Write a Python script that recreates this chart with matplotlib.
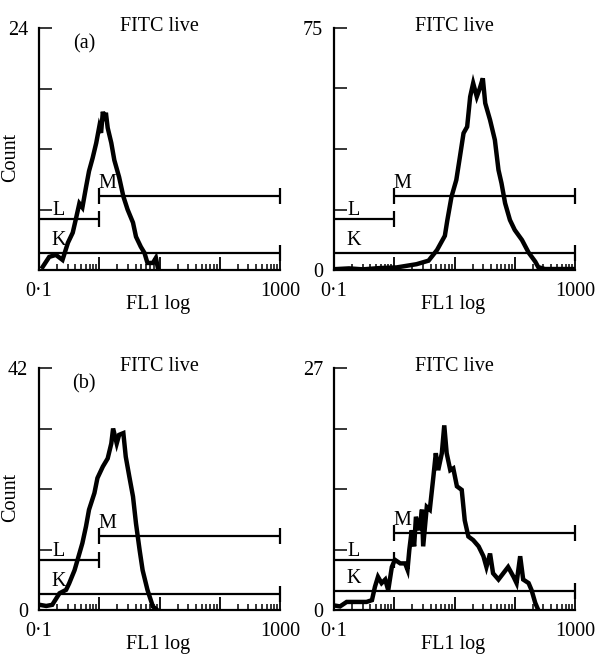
import matplotlib
matplotlib.use("Agg")
import matplotlib.pyplot as plt
import numpy as np

plt.rcParams['font.family'] = ['Liberation Serif', 'DejaVu Serif']
plt.rcParams['font.size'] = 14.5

# log10(FL1) positions and counts
a_log = [-0.94, -0.83, -0.72, -0.61, -0.52, -0.44, -0.39, -0.33, -0.28, -0.22, -0.17, -0.11,
         -0.05, 0.00, 0.03, 0.06, 0.09, 0.11, 0.14, 0.20, 0.25, 0.33, 0.40, 0.47, 0.56, 0.61,
         0.69, 0.75, 0.80, 0.89, 0.94, 0.97]
a_cnt = [0.3, 1.3, 1.5, 1.0, 2.7, 3.7, 5.0, 6.6, 6.2, 8.2, 9.8, 11.1,
         12.6, 14.2, 13.6, 15.7, 14.8, 15.6, 14.1, 12.6, 10.9, 9.2, 7.3, 6.0, 4.7, 3.3,
         2.3, 1.7, 0.7, 0.7, 1.2, 0.3]

b_log = [-0.95, -0.75, -0.52, -0.24, 0.04, 0.37, 0.57, 0.71, 0.84, 0.88, 0.95, 1.03, 1.09,
         1.15, 1.21, 1.26, 1.31, 1.37, 1.42, 1.47, 1.51, 1.59, 1.67, 1.73, 1.78, 1.84, 1.92,
         2.00, 2.12, 2.23, 2.34, 2.39, 2.50, 3.00]
b_cnt = [0.3, 0.5, 0.2, 0.6, 0.8, 1.8, 2.9, 6.2, 10.6, 15.3, 22.7, 27.9, 35.1,
         42.4, 44.4, 53.7, 57.9, 53.7, 56.3, 59.4, 51.7, 46.5, 40.3, 31.0, 26.9, 20.7, 15.5,
         12.4, 9.3, 5.4, 2.6, 0.9, 0.3, 0.3]

c_log = [-0.99, -0.88, -0.78, -0.75, -0.66, -0.55, -0.50, -0.41, -0.36, -0.28, -0.22, -0.17,
         -0.08, -0.03, 0.06, 0.14, 0.20, 0.23, 0.29, 0.33, 0.40, 0.44, 0.50, 0.56, 0.61,
         0.67, 0.72, 0.80, 0.89, 0.94]
c_cnt = [0.9, 0.7, 0.9, 1.4, 2.9, 3.5, 4.6, 6.9, 8.7, 11.6, 14.5, 17.4,
         20.3, 22.9, 24.9, 26.3, 28.9, 31.5, 28.9, 30.4, 30.7, 26.6, 23.1, 19.7, 15.0,
         10.4, 6.9, 3.5, 0.6, 0.2]

d_log = [-0.99, -0.90, -0.79, -0.62, -0.46, -0.37, -0.32, -0.27, -0.21, -0.15, -0.10, -0.04,
         0.01, 0.10, 0.18, 0.22, 0.25, 0.29, 0.33, 0.36, 0.42, 0.46, 0.48, 0.54, 0.59, 0.65,
         0.69, 0.73, 0.79, 0.83, 0.87, 0.93, 0.98, 1.04, 1.12, 1.17, 1.23, 1.31, 1.40, 1.48,
         1.53, 1.59, 1.64, 1.73, 1.81, 1.89, 1.98, 2.03, 2.09, 2.14, 2.23, 2.28, 2.34, 2.39]
d_cnt = [0.5, 0.4, 0.9, 0.9, 0.9, 1.1, 2.6, 3.7, 3.0, 3.4, 2.2, 4.8,
         5.6, 5.2, 5.2, 4.5, 6.7, 8.9, 7.1, 10.4, 8.9, 11.2, 7.1, 11.5, 11.2, 14.9,
         17.5, 15.6, 17.5, 20.6, 17.5, 15.6, 15.8, 13.8, 13.4, 10.0, 8.2, 7.8, 7.1, 6.0,
         4.8, 6.3, 4.1, 3.4, 4.1, 4.8, 3.7, 3.0, 6.0, 3.4, 3.0, 2.2, 0.8, 0.0]

y_max = [24, 75, 42, 27]
panel_tags = ['(a)', '', '(b)', '']
# gate levels (counts) for K, L, M in each panel
gate_k = [1.7, 5.2, 2.8, 2.1]
gate_l = [5.1, 15.8, 8.7, 5.6]
gate_m = [7.3, 23.0, 12.9, 8.6]

curves = [(a_log, a_cnt), (b_log, b_cnt), (c_log, c_cnt), (d_log, d_cnt)]

fig = plt.figure(figsize=(5.96, 6.58), dpi=100)
W, H = 596, 658
boxes = [(39, 28), (334, 28), (39, 368), (334, 368)]

for i, (x0, top) in enumerate(boxes):
    ax = fig.add_axes([x0 / W, 1 - (top + 242) / H, 241 / W, 242 / H])
    xl, yc = curves[i]
    ax.plot(10 ** np.array(xl), yc, c='k', lw=3.2, solid_joinstyle='miter')
    ym = y_max[i]
    ax.set_xscale('log')
    ax.set_xlim(0.1, 1000)
    ax.set_ylim(0, ym)

    ax.spines['top'].set_visible(False)
    ax.spines['right'].set_visible(False)
    ax.spines['left'].set_linewidth(1.6)
    ax.spines['bottom'].set_linewidth(1.6)

    ax.set_xticks([0.1, 1, 10, 100, 1000], labels=['0·1', '', '', '', '1000'])
    ax.set_xticks([m * 10.0 ** e for e in range(-1, 3) for m in range(2, 10)], minor=True)
    ax.tick_params(axis='x', which='major', direction='in', length=9.5, width=1.3, pad=8.5,
                   labelsize=14.5)
    ax.tick_params(axis='x', which='minor', direction='in', length=4.5, width=1.1)
    ax.set_yticks([0, ym / 4, ym / 2, 3 * ym / 4, ym])
    ax.tick_params(axis='y', direction='in', length=9, width=1.1, pad=8, labelsize=14.5)
    if i == 0:
        ax.set_yticklabels(['', '', '', '', '24'])
    else:
        ax.set_yticklabels(['0', '', '', '', str(ym)])

    ax.text(0.5, 0.988, 'FITC live', transform=ax.transAxes, ha='center', va='baseline',
            clip_on=False)
    ax.text(0.495, -0.161, 'FL1 log', transform=ax.transAxes, ha='center', va='baseline')
    if i % 2 == 0:
        ax.text(-0.116, 0.467, 'Count', transform=ax.transAxes, rotation=90,
                ha='center', va='center')
    if panel_tags[i]:
        ax.text(0.187, 0.934, panel_tags[i], transform=ax.transAxes, ha='center', va='center')

    # gates
    ax.hlines(gate_m[i], 1, 1000, colors='k', lw=1.6, clip_on=False)
    ax.plot([1, 1000], [gate_m[i], gate_m[i]], ls='none', marker='|', ms=11, mew=1.6,
            c='k', clip_on=False)
    ax.hlines(gate_l[i], 0.1, 1, colors='k', lw=1.6, clip_on=False)
    ax.plot([1], [gate_l[i]], ls='none', marker='|', ms=12, mew=1.6, c='k', clip_on=False)
    ax.hlines(gate_k[i], 0.1, 1000, colors='k', lw=1.6, clip_on=False)
    ax.plot([1000], [gate_k[i]], ls='none', marker='|', ms=11, mew=1.6, c='k', clip_on=False)

    px = ym / 242.0
    ax.text(0.97, gate_m[i] + 8 * px, 'M', ha='left', va='baseline')
    ax.text(0.165, gate_l[i] + 4 * px, 'L', ha='left', va='baseline')
    ax.text(0.16, gate_k[i] + 8 * px, 'K', ha='left', va='baseline')

fig.savefig('out.png', dpi=100)
